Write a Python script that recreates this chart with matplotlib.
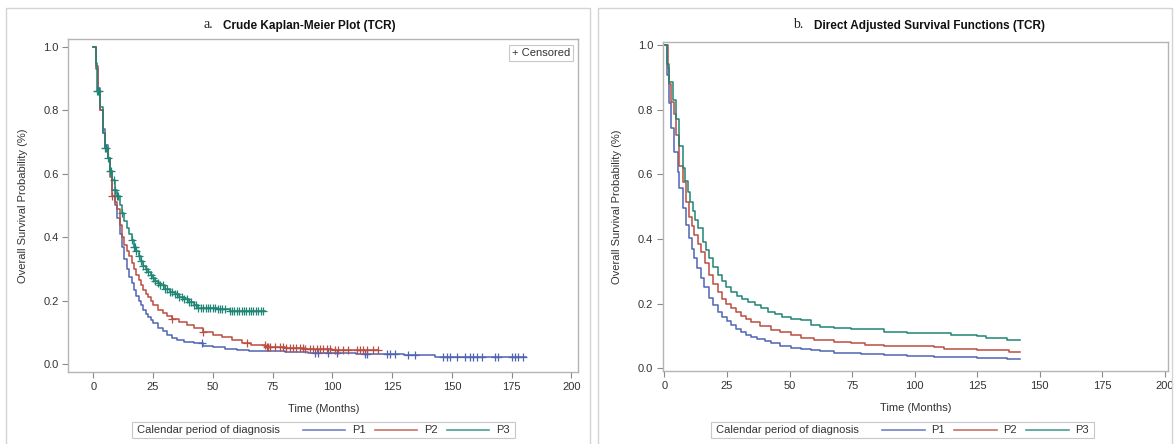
import matplotlib
matplotlib.use('Agg')
import matplotlib.pyplot as plt
import numpy as np
from matplotlib.lines import Line2D
from matplotlib.patches import Rectangle

W, H = 1174, 444

plt.rcParams['font.family'] = ['Liberation Sans', 'DejaVu Sans']

groups = ['P1', 'P2', 'P3']
colors = {'P1': '#5064b4', 'P2': '#bb4d40', 'P3': '#1f8575'}

# panel a: crude Kaplan-Meier, step knots (months, survival)
km_t = {
    'P1': [0, 1, 2, 3, 4, 5, 6, 7, 8, 9, 10, 11, 12, 13, 14, 15, 16, 17, 18, 19, 20,
           21, 22, 23, 24, 25, 27, 29, 31, 33, 35, 38, 42, 46, 50, 55, 60, 65, 72, 80,
           90, 100, 110, 120, 130, 143, 181],
    'P2': [0, 1, 2, 3, 4, 5, 6, 7, 8, 9, 10, 11, 12, 13, 14, 15, 16, 17, 18, 19, 20,
           21, 22, 23, 24, 25, 27, 29, 31, 33, 36, 39, 42, 46, 50, 54, 58, 62, 66, 72,
           80, 88, 100, 119],
    'P3': [0, 1, 1.5, 3, 4, 5, 6, 7, 8, 9, 10, 11, 12, 13, 14, 15, 16, 17, 18, 19, 20,
           21, 22, 23, 24, 25, 26, 27, 28, 30, 32, 34, 36, 38, 40, 42, 44, 48, 52, 57, 72],
}
km_s = {
    'P1': [1.0, 0.93, 0.87, 0.80, 0.74, 0.69, 0.65, 0.61, 0.55, 0.50, 0.46, 0.41, 0.37,
           0.33, 0.30, 0.275, 0.255, 0.235, 0.215, 0.20, 0.185, 0.17, 0.158, 0.148, 0.138,
           0.128, 0.115, 0.103, 0.092, 0.083, 0.076, 0.071, 0.066, 0.058, 0.053, 0.049,
           0.045, 0.042, 0.040, 0.038, 0.036, 0.034, 0.032, 0.031, 0.030, 0.022, 0.022],
    'P2': [1.0, 0.94, 0.86, 0.80, 0.73, 0.68, 0.65, 0.59, 0.53, 0.51, 0.49, 0.44, 0.40,
           0.375, 0.355, 0.34, 0.32, 0.30, 0.28, 0.265, 0.25, 0.235, 0.222, 0.21, 0.198,
           0.185, 0.17, 0.16, 0.152, 0.142, 0.132, 0.122, 0.113, 0.100, 0.092, 0.085,
           0.077, 0.068, 0.060, 0.055, 0.051, 0.047, 0.045, 0.045],
    'P3': [1.0, 0.95, 0.86, 0.81, 0.73, 0.68, 0.65, 0.61, 0.58, 0.55, 0.53, 0.50, 0.475,
           0.45, 0.43, 0.41, 0.39, 0.37, 0.355, 0.34, 0.325, 0.31, 0.30, 0.29, 0.28, 0.27,
           0.262, 0.255, 0.248, 0.238, 0.228, 0.22, 0.212, 0.205, 0.195, 0.185, 0.178,
           0.176, 0.174, 0.166, 0.166],
}
# censored times
km_cens = {
    'P1': [45.3, 92.7, 94.1, 98.3, 101.8, 113.6, 114.3, 122.7, 124.1, 126.2, 131.8,
           134.6, 146.4, 147.8, 149.2, 152, 155.5, 157.6, 159, 160.4, 162.5, 168, 169.4,
           175, 176.4, 177.5, 179.9],
    'P2': [8, 33, 46, 64.1, 71.8, 72.5, 73.2, 74, 76, 78, 79.5, 80.6, 82.3, 83.7, 85,
           86.4, 87.8, 88.5, 90.6, 92, 93.4, 94.8, 96.2, 97.6, 99, 101, 102.5, 104.6,
           106.7, 110.2, 111.5, 113, 114.3, 117.1, 119],
    'P3': [1.6, 2.0, 2.4, 5, 5.5, 6, 7, 7.5, 8.5, 9, 10, 10.5, 12, 16, 17, 17.5, 18, 19,
           20, 21, 22, 23, 24, 25, 26, 27, 28, 29, 30, 31, 32, 33, 34, 35, 36, 37, 38, 39,
           40, 41, 42, 43, 44, 45, 46, 47, 48, 49, 50, 51, 52, 53, 54, 55, 57, 58, 59, 60,
           61, 62, 63, 64, 65, 66, 67, 68, 69, 70, 71],
}

# panel b: direct adjusted survival
adj_t = {
    'P1': [0, 1, 1.7, 2.7, 4, 5.3, 6, 7.3, 8.6, 10, 11, 12, 13, 14.6, 16, 18, 19.5, 21.3,
           23, 25, 26.6, 28.5, 30.5, 32.5, 34.6, 37, 40, 42.6, 46, 50.5, 54.5, 58.5, 62,
           67.9, 78.5, 87.8, 97, 107.8, 125, 130, 137, 142],
    'P2': [0, 1.3, 2, 2.7, 3.7, 4.7, 6, 7.3, 8.6, 10, 11, 12, 13.3, 14.6, 16.3, 18, 19.6,
           21.3, 23, 24.8, 26.6, 28.5, 30.5, 32.5, 34.6, 38, 42.6, 46, 50.5, 54.5, 59.9,
           67.9, 74.5, 80, 87.8, 107.8, 111.8, 125, 129, 137.6, 142],
    'P3': [0, 1.1, 2, 3.3, 4.7, 6, 7.3, 8.3, 9.3, 10.3, 11.3, 12.3, 13.3, 15.3, 16.6, 18,
           19.6, 21.3, 23, 24.8, 26.6, 29, 31, 33.2, 36, 38.5, 41.2, 44, 47, 50.5, 54.5,
           58.5, 62, 67.9, 74.5, 87.8, 97.1, 107.8, 114.4, 125, 128.4, 137, 142],
}
adj_s = {
    'P1': [1.0, 0.907, 0.82, 0.742, 0.67, 0.608, 0.557, 0.495, 0.443, 0.402, 0.37, 0.34,
           0.31, 0.278, 0.25, 0.216, 0.195, 0.175, 0.158, 0.145, 0.134, 0.122, 0.112,
           0.104, 0.098, 0.09, 0.083, 0.077, 0.07, 0.062, 0.06, 0.055, 0.052, 0.048,
           0.045, 0.040, 0.038, 0.036, 0.033, 0.031, 0.028, 0.028],
    'P2': [1.0, 0.93, 0.88, 0.825, 0.787, 0.72, 0.624, 0.577, 0.515, 0.469, 0.44, 0.412,
           0.385, 0.36, 0.325, 0.289, 0.262, 0.237, 0.215, 0.2, 0.186, 0.173, 0.162,
           0.153, 0.144, 0.132, 0.119, 0.111, 0.103, 0.094, 0.086, 0.081, 0.077, 0.073,
           0.068, 0.066, 0.061, 0.058, 0.055, 0.051, 0.051],
    'P3': [1.0, 0.94, 0.885, 0.83, 0.77, 0.686, 0.62, 0.58, 0.546, 0.515, 0.485, 0.46,
           0.433, 0.392, 0.365, 0.34, 0.312, 0.289, 0.27, 0.252, 0.237, 0.222, 0.213,
           0.206, 0.195, 0.185, 0.175, 0.168, 0.16, 0.153, 0.15, 0.134, 0.128, 0.124,
           0.121, 0.113, 0.11, 0.108, 0.103, 0.10, 0.095, 0.088, 0.088],
}

x_ticks = [0, 25, 50, 75, 100, 125, 150, 175, 200]
y_ticks = [0.0, 0.2, 0.4, 0.6, 0.8, 1.0]

frame_col = '#d4d4d4'
spine_col = '#b4b4b4'
text_col = '#333333'


def fx(px):
    return px / W


def fy(py):
    return 1 - py / H


def style_axes(ax, xlim, ylim):
    ax.set_xlim(*xlim)
    ax.set_ylim(*ylim)
    ax.set_xticks(x_ticks)
    ax.set_yticks(y_ticks)
    ax.set_yticklabels(['%.1f' % v for v in y_ticks])
    for sp in ax.spines.values():
        sp.set_color(spine_col)
        sp.set_linewidth(1.0)
    ax.tick_params(direction='out', length=4, width=0.8, color='#8a8a8a',
                   labelsize=8, labelcolor=text_col, pad=3)
    ax.set_xlabel('Time (Months)', fontsize=8, color=text_col)
    ax.set_ylabel('Overall Survival Probability (%)', fontsize=8, color=text_col)


def title(x_letter, x_text, letter, text):
    fig.text(fx(x_letter), fy(25), letter, ha='right', va='center',
             family='Liberation Serif', fontsize=10, color='#222222')
    fig.text(fx(x_text), fy(25.5), text, ha='left', va='center',
             fontsize=8.5, fontweight='bold', color='#111111')


def legend(x0):
    y0, y1 = 421.7, 437.7
    fig.patches.append(Rectangle((fx(x0), fy(y1)), fx(383.3), (y1 - y0) / H,
                                 transform=fig.transFigure, fc='white', ec='#c8c8c8',
                                 lw=0.8))
    yc = fy(429.5)
    fig.text(fx(x0 + 5), yc, 'Calendar period of diagnosis', ha='left', va='center',
             fontsize=8, color=text_col)
    for i, g in enumerate(groups):
        xs = x0 + 171 + i * 72
        fig.lines.append(Line2D([fx(xs), fx(xs + 42.5)], [yc, yc], color=colors[g],
                                lw=1.2, transform=fig.transFigure, alpha=0.8))
        fig.text(fx(xs + 49), yc, g, ha='left', va='center', fontsize=8,
                 color=text_col)


fig = plt.figure(figsize=(W / 100, H / 100), dpi=100)

# panel frames
fig.patches.append(Rectangle((fx(6), fy(470)), fx(584), 462 / H, transform=fig.transFigure,
                             fc='none', ec=frame_col, lw=1.0))
fig.patches.append(Rectangle((fx(598), fy(470)), fx(574), 462 / H, transform=fig.transFigure,
                             fc='none', ec=frame_col, lw=1.0))

# panel a
ax1 = fig.add_axes([fx(68.3), fy(372), (578.3 - 68.3) / W, (372 - 39.3) / H])
for g in groups:
    t = np.array(km_t[g])
    s = np.array(km_s[g])
    ax1.step(t, s, where='post', color=colors[g], lw=1.1)
    c = np.array(km_cens[g])
    cy = s[np.searchsorted(t, c, side='right') - 1]
    ax1.plot(c, cy, ls='none', marker='+', ms=5.5, mew=0.9, color=colors[g])
style_axes(ax1, (-10.46, 202.9), (-0.025, 1.024))
ax1.xaxis.set_label_coords(0.5, -0.096)
ax1.yaxis.set_label_coords(-0.079, 0.5)
ax1.text(0.9837, 0.974, '+ Censored', transform=ax1.transAxes, ha='right', va='top',
         fontsize=8, color=text_col,
         bbox=dict(boxstyle='square,pad=0.25', fc='white', ec='#c8c8c8', lw=0.8))
title(213.3, 222.7, 'a.', 'Crude Kaplan-Meier Plot (TCR)')
legend(131.7)

# panel b
ax2 = fig.add_axes([fx(662.7), fy(371), (1168.3 - 662.7) / W, (371 - 42) / H])
for g in groups:
    ax2.step(adj_t[g], adj_s[g], where='post', color=colors[g], lw=1.1)
style_axes(ax2, (-0.7, 201.4), (-0.0084, 1.009))
ax2.xaxis.set_label_coords(0.5, -0.097)
ax2.yaxis.set_label_coords(-0.0805, 0.5)
title(803.3, 814, 'b.', 'Direct Adjusted Survival Functions (TCR)')
legend(711)

fig.savefig('out.png', dpi=100)
